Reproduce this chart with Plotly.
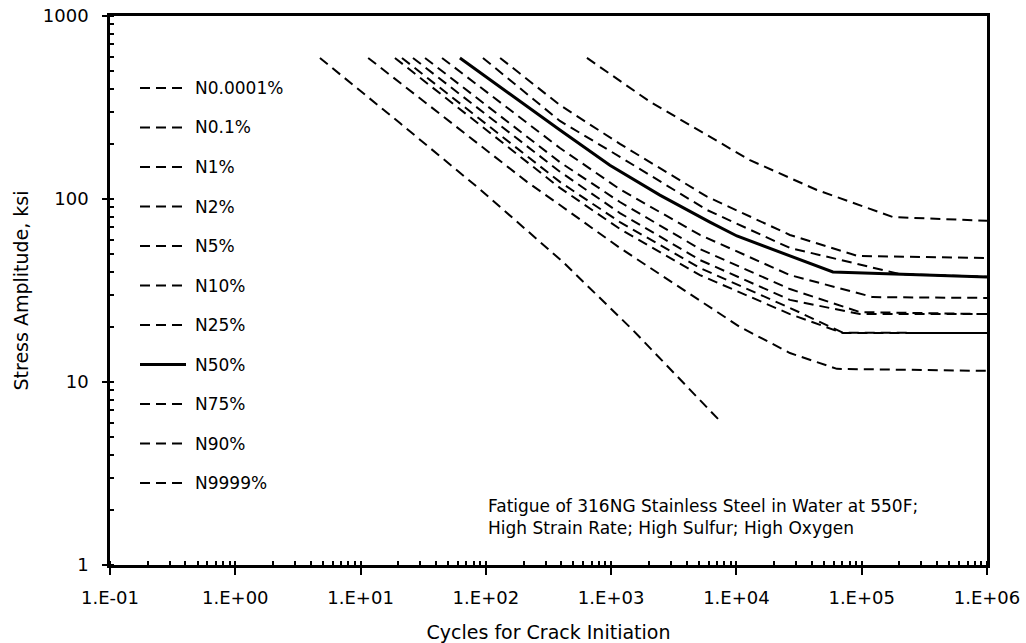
import plotly.graph_objects as go

# S-N curves for 316NG stainless steel in 550F water (cycles, stress amplitude in ksi)
labels = ["N0.0001%", "N0.1%", "N1%", "N2%", "N5%", "N10%", "N25%",
          "N50%", "N75%", "N90%", "N9999%"]

n_p0001 = [4.74, 20.6, 89.7, 412, 1493, 4498, 7656]
s_p0001 = [590, 260, 113, 45.3, 19.2, 8.71, 5.97]

n_p1 = [11.5, 213, 390, 1175, 10660, 26730, 63400, 1e6]
s_p1 = [590, 124, 92.7, 54.0, 20.0, 14.4, 11.8, 11.5]

n_1 = [18.8, 390, 1175, 5117, 26730, 70770, 1e6]
s_1 = [590, 115, 68.6, 38.4, 23.5, 18.5, 18.5]

n_2 = [21.4, 390, 1175, 5117, 26730, 70770, 1e6]
s_2 = [590, 124, 74.8, 42.0, 25.4, 18.6, 18.5]

n_5 = [26.2, 390, 1175, 5117, 26730, 96800, 1e6]
s_5 = [590, 141, 83.8, 46.4, 28.1, 23.5, 23.5]

n_10 = [32.7, 390, 1175, 5117, 26730, 96800, 1e6]
s_10 = [590, 159, 96.3, 53.3, 32.2, 24.1, 23.5]

n_25 = [44.7, 390, 1175, 5117, 26730, 122800, 1e6]
s_25 = [590, 190, 113, 63.6, 38.4, 29.1, 28.8]

n_50 = [62.1, 390, 977, 2450, 6140, 10090, 58900, 1e6]
s_50 = [590, 238, 153, 105, 74.8, 62.8, 39.9, 37.5]

n_75 = [94.8, 390, 1175, 5821, 26730, 96800, 201800, 1e6]
s_75 = [590, 267, 170, 87.1, 54.0, 43.6, 38.9, 37.6]

n_90 = [130, 390, 1175, 5821, 26730, 93300, 1e6]
s_90 = [590, 326, 200, 103, 63.6, 48.8, 47.6]

n_9999 = [641, 2042, 12820, 43890, 177500, 1e6]
s_9999 = [590, 340, 163, 112, 79.7, 76.0]

x_tick_vals = [1e-1, 1e0, 1e1, 1e2, 1e3, 1e4, 1e5, 1e6]
x_tick_text = ["1.E-01", "1.E+00", "1.E+01", "1.E+02", "1.E+03", "1.E+04", "1.E+05", "1.E+06"]
y_tick_vals = [1, 10, 100, 1000]
y_tick_text = ["1", "10", "100", "1000"]

series = [
    (n_p0001, s_p0001), (n_p1, s_p1), (n_1, s_1), (n_2, s_2), (n_5, s_5),
    (n_10, s_10), (n_25, s_25), (n_50, s_50), (n_75, s_75), (n_90, s_90),
    (n_9999, s_9999),
]

FONT = "DejaVu Sans"
DASH = "10px,6px"

# plot-area geometry in pixels
W, H = 1026, 643
M_L, M_R, M_T, M_B = 110, 39, 16, 78
PW, PH = W - M_L - M_R, H - M_T - M_B


def px_x(px):
    return (px - M_L) / PW


def px_y(py):
    return 1 - (py - M_T) / PH


fig = go.Figure()
for name, (n, s) in zip(labels, series):
    solid = name == "N50%"
    fig.add_trace(go.Scatter(
        x=n, y=s, mode="lines", name=name, showlegend=False,
        line=dict(color="black", width=3 if solid else 2,
                  dash="solid" if solid else DASH),
    ))

# key drawn inside the plot area: short line sample followed by the label
shapes, annotations = [], []
ROW0, ROW_STEP = 88, 39.5
for i, name in enumerate(labels):
    yc = px_y(ROW0 + i * ROW_STEP)
    solid = name == "N50%"
    shapes.append(dict(
        type="line", xref="paper", yref="paper",
        x0=px_x(140), x1=px_x(186), y0=yc, y1=yc,
        line=dict(color="black", width=3 if solid else 2,
                  dash="solid" if solid else DASH),
    ))
    annotations.append(dict(
        text=name, xref="paper", yref="paper", x=px_x(193), y=yc,
        xanchor="left", yanchor="middle", showarrow=False,
        font=dict(family=FONT, size=17, color="black"),
    ))

annotations.append(dict(
    text="Fatigue of 316NG Stainless Steel in Water at 550F;<br>"
         "High Strain Rate; High Sulfur; High Oxygen",
    xref="paper", yref="paper", x=px_x(486), y=px_y(517),
    xanchor="left", yanchor="middle", align="left", showarrow=False,
    font=dict(family=FONT, size=17, color="black"),
))

axis_common = dict(
    type="log", showgrid=False, zeroline=False, automargin=False,
    showline=True, linecolor="black", linewidth=2.5, mirror=True,
    ticks="outside", tickcolor="black", tickwidth=2,
    tickfont=dict(family=FONT, size=18, color="black"),
    minor=dict(ticks="inside", ticklen=4, tickwidth=2, tickcolor="black",
               dtick="D1", showgrid=False),
)

fig.update_layout(
    width=W, height=H,
    margin=dict(l=M_L, r=M_R, t=M_T, b=M_B),
    paper_bgcolor="white", plot_bgcolor="white",
    font=dict(family=FONT, color="black"),
    showlegend=False,
    shapes=shapes,
    annotations=annotations,
    xaxis=dict(
        **axis_common, range=[-1, 6], ticklen=7,
        tickmode="array", tickvals=x_tick_vals, ticktext=x_tick_text,
        ticklabelstandoff=8,
        title=dict(text="Cycles for Crack Initiation",
                   font=dict(family=FONT, size=19, color="black"), standoff=27),
    ),
    yaxis=dict(
        **axis_common, range=[0, 3], ticklen=5,
        tickmode="array", tickvals=y_tick_vals, ticktext=y_tick_text,
        ticklabelstandoff=10,
        title=dict(text="Stress Amplitude, ksi",
                   font=dict(family=FONT, size=19, color="black"), standoff=10),
    ),
)

fig.write_html("out.html")
